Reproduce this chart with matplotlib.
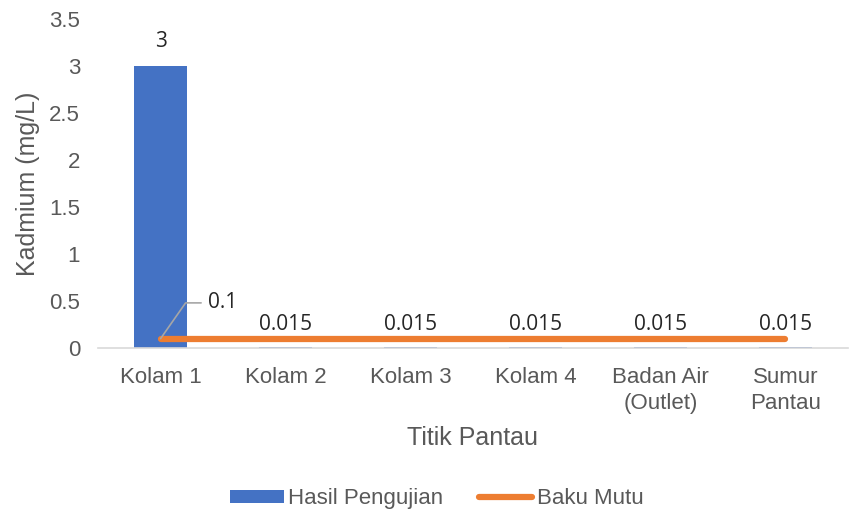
import numpy as np
import matplotlib
matplotlib.use("Agg")
import matplotlib.pyplot as plt

categories = ["Kolam 1", "Kolam 2", "Kolam 3", "Kolam 4", "Badan Air\n(Outlet)", "Sumur\nPantau"]
hasil = [3, 0.015, 0.015, 0.015, 0.015, 0.015]
baku_mutu = [0.1, 0.1, 0.1, 0.1, 0.1, 0.1]
yticks = [0, 0.5, 1, 1.5, 2, 2.5, 3, 3.5]
ytick_labels = ["0", "0.5", "1", "1.5", "2", "2.5", "3", "3.5"]

plt.rcParams['font.family'] = ['Liberation Sans', 'DejaVu Sans']
gray = '#595959'
dark = '#262626'

fig = plt.figure(figsize=(8.53, 5.13), dpi=100)
ax = fig.add_axes([0.115, 0.3216, 0.879, 0.6414])

x = np.arange(len(categories))
bars = ax.bar(x, hasil, width=0.43, color='#4472C4', label='Hasil Pengujian', zorder=2)
line, = ax.plot(x, baku_mutu, color='#ED7D31', lw=4.5, solid_capstyle='round',
                label='Baku Mutu', zorder=3)

ax.set_xlim(-0.5, len(categories) - 0.5)
ax.set_ylim(0, 3.5)
ax.set_yticks(yticks)
ax.set_yticklabels(ytick_labels)
ax.set_xticks(x)
ax.set_xticklabels(categories, linespacing=1.3)
ax.tick_params(axis='both', length=0, labelsize=16, colors=gray)
ax.tick_params(axis='x', pad=14)
ax.tick_params(axis='y', pad=13)

for s in ['top', 'right', 'left']:
    ax.spines[s].set_visible(False)
ax.spines['bottom'].set_color('#D9D9D9')
ax.spines['bottom'].set_linewidth(1.2)

# data labels
lab_font = ['Open Sans', 'DejaVu Sans']
ax.text(x[0], hasil[0] + 0.15, "3", ha='center', va='bottom', fontsize=15, color=dark, family=lab_font)
for xi, v in zip(x[1:], hasil[1:]):
    ax.text(xi, 0.14, f"{v:g}", ha='center', va='bottom', fontsize=15, color=dark, family=lab_font)

# baku mutu label with leader line
ax.annotate("0.1", xy=(x[0], baku_mutu[0]), xytext=(x[0] + 0.38, 0.48),
            ha='left', va='center', fontsize=15, color=dark, family=lab_font,
            arrowprops=dict(arrowstyle='-', color='#A6A6A6', lw=1.2,
                            connectionstyle='angle,angleA=0,angleB=55,rad=0',
                            shrinkA=3, shrinkB=0))

ax.set_xlabel("Titik Pantau", fontsize=18, color=gray, va='center')
ax.xaxis.set_label_coords(0.5, -0.272)
ax.set_ylabel("Kadmium (mg/L)", fontsize=18, color=gray, va='center')
ax.yaxis.set_label_coords(-0.093, 0.5)

fig.legend(handles=[bars, line], loc='center', bbox_to_anchor=(0.512, 0.028), ncol=2,
           frameon=False, fontsize=16, labelcolor=gray, handlelength=2.4,
           handletextpad=0.2, columnspacing=1.6, handleheight=0.5)

fig.savefig("out.png", dpi=100)
